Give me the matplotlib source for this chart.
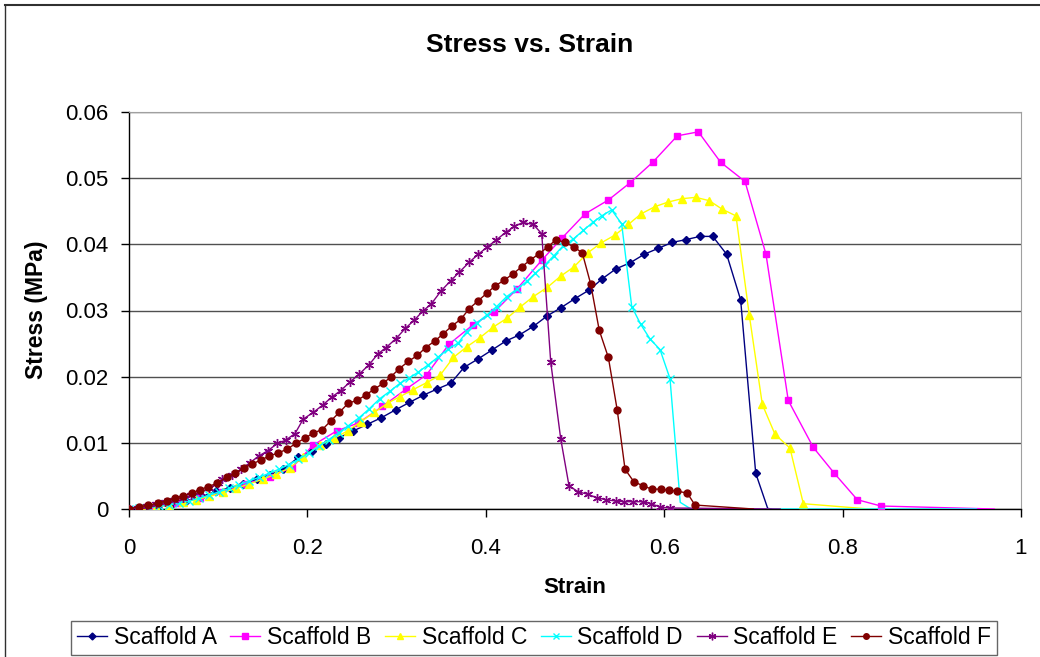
import matplotlib
matplotlib.use("Agg")
import matplotlib.pyplot as plt
from matplotlib.lines import Line2D

plt.rcParams['font.family'] = ['Liberation Sans', 'DejaVu Sans']

########## DATA ##########

a_x = [0, 0.016, 0.032, 0.048, 0.064, 0.08, 0.098, 0.113, 0.128, 0.144, 0.158, 0.173,
       0.1898, 0.2048, 0.2205, 0.2358, 0.2515, 0.2672, 0.283, 0.299, 0.3143, 0.33,
       0.3449, 0.3607, 0.3756, 0.3916, 0.4066, 0.4226, 0.4376, 0.4533, 0.469, 0.484,
       0.5, 0.516, 0.5306, 0.546, 0.5617, 0.5777, 0.5934, 0.6091, 0.6241, 0.6401,
       0.6544, 0.67, 0.6857, 0.7026, 0.716, 0.72]
a_y = [0, 0.0001, 0.0004, 0.0008, 0.0012, 0.0018, 0.0027, 0.0032, 0.0038, 0.0045, 0.0052, 0.006,
       0.0078, 0.0087, 0.0098, 0.0108, 0.0118, 0.0128, 0.0138, 0.015, 0.0161, 0.0172,
       0.0181, 0.019, 0.0214, 0.0227, 0.024, 0.0254, 0.0263, 0.0276, 0.0292, 0.0304,
       0.0318, 0.0331, 0.0348, 0.0363, 0.0372, 0.0385, 0.0394, 0.0403, 0.0407, 0.0412,
       0.0412, 0.0385, 0.0316, 0.0054, 0.0001, 0]
a_marked = 46

b_x = [0, 0.027, 0.054, 0.08, 0.1046, 0.1312, 0.158, 0.1824, 0.2059, 0.2328, 0.2571,
       0.284, 0.3105, 0.3337, 0.3587, 0.3853, 0.4096, 0.4346, 0.4634, 0.4858, 0.5112,
       0.5374, 0.5617, 0.5871, 0.6147, 0.6383, 0.6633, 0.6906, 0.7141, 0.7391, 0.7672,
       0.7907, 0.8165, 0.843, 0.97]
b_y = [0, 0.0002, 0.00095, 0.0016, 0.0025, 0.0038, 0.0049, 0.0062, 0.0096, 0.0118, 0.013,
       0.0155, 0.0181, 0.0203, 0.0249, 0.0278, 0.0298, 0.0332, 0.0377, 0.041, 0.0446,
       0.0467, 0.0493, 0.0524, 0.0564, 0.057, 0.0524, 0.0495, 0.0385, 0.0164, 0.0093,
       0.0054, 0.0014, 0.00045, 0]
b_marked = 34

c_x = [0, 0.015, 0.03, 0.045, 0.06, 0.075, 0.09, 0.105, 0.12, 0.135, 0.15, 0.165, 0.18,
       0.1947, 0.2141, 0.23, 0.245, 0.26, 0.275, 0.29, 0.304, 0.318, 0.3337, 0.3487,
       0.3636, 0.3786, 0.3935, 0.4084, 0.4234, 0.4383, 0.4533, 0.469, 0.484, 0.4989,
       0.5142, 0.5291, 0.5448, 0.5598, 0.574, 0.5897, 0.6046, 0.62, 0.6353, 0.6506,
       0.6651, 0.6805, 0.6954, 0.71, 0.7242, 0.741, 0.756, 0.83]
c_y = [0, 0.0001, 0.0003, 0.0006, 0.001, 0.0014, 0.0019, 0.0025, 0.0031, 0.0038, 0.0045, 0.0053, 0.0062,
       0.0078, 0.0097, 0.0107, 0.0118, 0.0132, 0.0146, 0.016, 0.017, 0.018, 0.0191, 0.0202,
       0.0229, 0.0245, 0.0259, 0.0275, 0.0288, 0.0305, 0.0321, 0.0335, 0.0352, 0.0366,
       0.0387, 0.0402, 0.0414, 0.043, 0.0446, 0.0457, 0.0464, 0.0469, 0.0471, 0.0466,
       0.0453, 0.0443, 0.0293, 0.0158, 0.0113, 0.0092, 0.0008, 0]
c_marked = 51

d_x = [0, 0.011, 0.022, 0.034, 0.045, 0.056, 0.067, 0.078, 0.09, 0.101, 0.112, 0.123,
       0.134, 0.146, 0.157, 0.168, 0.179, 0.19, 0.202, 0.213, 0.224, 0.235, 0.246, 0.258,
       0.269, 0.2814, 0.2926, 0.3038, 0.3142, 0.3244, 0.3356, 0.3468, 0.358, 0.3692,
       0.3786, 0.3898, 0.401, 0.4122, 0.4234, 0.4346, 0.4458, 0.4552, 0.4664, 0.4765,
       0.4869, 0.4981, 0.5093, 0.5198, 0.5299, 0.5411, 0.5523, 0.5636, 0.5737, 0.5841,
       0.5953, 0.6065, 0.618, 0.63, 0.95]
d_y = [0, 0.0001, 0.0002, 0.0004, 0.0006, 0.0009, 0.0012, 0.0016, 0.0021, 0.0026, 0.0031, 0.0036,
       0.0042, 0.0048, 0.0054, 0.006, 0.0067, 0.0075, 0.0085, 0.0095, 0.0105, 0.0115, 0.0126, 0.0138,
       0.0151, 0.0167, 0.0178, 0.019, 0.0198, 0.0207, 0.0218, 0.023, 0.0242, 0.0251,
       0.0268, 0.0281, 0.0293, 0.0306, 0.0321, 0.0332, 0.0344, 0.0356, 0.0369, 0.0383,
       0.0398, 0.0408, 0.0421, 0.0433, 0.0443, 0.0452, 0.0431, 0.0306, 0.0279, 0.0257,
       0.0241, 0.0197, 0.001, 0, 0]
d_marked = 56

e_x = [0, 0.01, 0.02, 0.03, 0.04, 0.05, 0.06, 0.07, 0.08, 0.09, 0.0994, 0.1047, 0.1151,
       0.1256, 0.1357, 0.1454, 0.1555, 0.1663, 0.1756, 0.1861, 0.1954, 0.2066, 0.2171,
       0.2272, 0.2373, 0.2478, 0.2582, 0.2691, 0.2788, 0.2881, 0.299, 0.3098, 0.3195,
       0.3293, 0.3389, 0.3501, 0.3607, 0.3703, 0.3815, 0.3916, 0.4017, 0.4111, 0.4223,
       0.432, 0.4414, 0.4533, 0.4627, 0.4728, 0.484, 0.4933, 0.5037, 0.5149, 0.5243,
       0.5348, 0.546, 0.5546, 0.5654, 0.5759, 0.5852, 0.5953, 0.6065, 0.73]
e_y = [0, 0.0002, 0.0004, 0.0007, 0.001, 0.0013, 0.0017, 0.0021, 0.0026, 0.0031, 0.0039, 0.0045, 0.0052,
       0.006, 0.007, 0.008, 0.0088, 0.0099, 0.0104, 0.0114, 0.0136, 0.0146, 0.0157,
       0.0169, 0.0179, 0.0192, 0.0204, 0.0218, 0.0234, 0.0244, 0.0257, 0.0273, 0.0285,
       0.0299, 0.031, 0.033, 0.0345, 0.0358, 0.0373, 0.0385, 0.0396, 0.0406, 0.0418,
       0.0427, 0.0433, 0.043, 0.0416, 0.0222, 0.0106, 0.0035, 0.0026, 0.0022, 0.0017,
       0.0014, 0.0012, 0.0011, 0.0011, 0.0011, 0.0008, 0.0003, 0.00015, 0]
e_marked = 61

f_x = [0, 0.0116, 0.0217, 0.0322, 0.0423, 0.0516, 0.0609, 0.0703, 0.0796, 0.0889, 0.099,
       0.1095, 0.1188, 0.1289, 0.1382, 0.1476, 0.1573, 0.1674, 0.1768, 0.1869, 0.1973,
       0.2066, 0.2167, 0.2261, 0.2358, 0.2459, 0.2553, 0.2653, 0.2747, 0.2851, 0.2937,
       0.303, 0.3131, 0.3232, 0.3326, 0.343, 0.3524, 0.3624, 0.3722, 0.3815, 0.3909,
       0.401, 0.4103, 0.4208, 0.4301, 0.4402, 0.4496, 0.46, 0.4694, 0.4787, 0.4888,
       0.4989, 0.5082, 0.5176, 0.5272, 0.5374, 0.5474, 0.5561, 0.5661, 0.5766, 0.5859,
       0.596, 0.6057, 0.6147, 0.6259, 0.6345, 0.70]
f_y = [0, 0.00035, 0.0006, 0.00086, 0.00126, 0.0016, 0.002, 0.0024, 0.0029, 0.0034, 0.0039,
       0.0048, 0.0054, 0.0062, 0.0068, 0.0074, 0.008, 0.0085, 0.009, 0.0099, 0.0107,
       0.0115, 0.012, 0.0133, 0.0146, 0.016, 0.0164, 0.0172, 0.0181, 0.019, 0.02,
       0.0212, 0.0223, 0.0232, 0.0244, 0.0254, 0.0265, 0.0277, 0.0287, 0.0303, 0.0314,
       0.0326, 0.0337, 0.0346, 0.0355, 0.0366, 0.0376, 0.0386, 0.0396, 0.0407, 0.0403,
       0.0396, 0.0387, 0.034, 0.027, 0.0229, 0.0149, 0.006, 0.0041, 0.0035, 0.003,
       0.003, 0.0028, 0.0027, 0.0024, 0.0006, 0]
f_marked = 66

series_names = ["Scaffold A", "Scaffold B", "Scaffold C", "Scaffold D", "Scaffold E", "Scaffold F"]
x_ticks = [0, 0.2, 0.4, 0.6, 0.8, 1]
x_tick_labels = ["0", "0.2", "0.4", "0.6", "0.8", "1"]
y_ticks = [0, 0.01, 0.02, 0.03, 0.04, 0.05, 0.06]
y_tick_labels = ["0", "0.01", "0.02", "0.03", "0.04", "0.05", "0.06"]

########## PLOT ##########

colors = ["#000080", "#FF00FF", "#FFFF00", "#00FFFF", "#800080", "#800000"]
markers = ["D", "s", "^", "x", (6, 2, 0), "o"]
msizes = [4.5, 5, 5.5, 6, 6.5, 5]

fig = plt.figure(figsize=(10.4, 6.57), dpi=100)
ax = fig.add_axes([129/1040, 1 - 509/657, (1021 - 129)/1040, (509 - 112)/657])

data = [(a_x, a_y, a_marked), (b_x, b_y, b_marked), (c_x, c_y, c_marked),
        (d_x, d_y, d_marked), (e_x, e_y, e_marked), (f_x, f_y, f_marked)]

handles = []
for i, (xs, ys, nm) in enumerate(data):
    ax.plot(xs, ys, color=colors[i], linewidth=1.0, zorder=3 + i)
    ax.plot(xs[:nm], ys[:nm], linestyle="none", marker=markers[i], markersize=msizes[i],
            color=colors[i], markeredgecolor=colors[i], markeredgewidth=1.0, zorder=3 + i)
    handles.append(Line2D([], [], color=colors[i], linewidth=1.0, marker=markers[i],
                          markersize=msizes[i] - 1, markeredgewidth=1.0))

ax.set_xlim(0, 1)
ax.set_ylim(0, 0.06)
ax.set_xticks(x_ticks)
ax.set_xticklabels(x_tick_labels)
ax.set_yticks(y_ticks)
ax.set_yticklabels(y_tick_labels)
ax.tick_params(direction="out", length=6, width=1, labelsize=16, colors="black")
ax.tick_params(axis="y", pad=9)
ax.tick_params(axis="x", pad=15)
ax.grid(True, axis="y", color="#505050", linewidth=1.0, zorder=1)
ax.set_axisbelow(True)
for s in ["top", "right"]:
    ax.spines[s].set_color("#a0a0a0")
for s in ["left", "bottom"]:
    ax.spines[s].set_color("black")
    ax.spines[s].set_linewidth(1.0)

ax.set_xlabel("Strain", fontsize=16, fontweight="bold", labelpad=13)
fig.text(37/1040, 1 - 310/657, "Stress (MPa)", rotation=90, fontsize=16.5, fontweight="bold",
         ha="center", va="center")
fig.text(530/1040, 1 - 45/657, "Stress vs. Strain", fontsize=19, fontweight="bold",
         ha="center", va="center")

leg = fig.legend(handles, series_names, loc="center", ncol=6,
                 bbox_to_anchor=(534/1040, 1 - 638/657), fontsize=16.5, frameon=True,
                 fancybox=False, edgecolor="#404040", handlelength=1.3, handletextpad=0.3,
                 columnspacing=0.6, borderpad=0.25, borderaxespad=0)
leg.get_frame().set_linewidth(1.0)

# chart border (top and left visible in original crop)
fig.add_artist(Line2D([5/1040, 1], [1 - 5/657, 1 - 5/657], color="#303030", linewidth=1.5))
fig.add_artist(Line2D([5/1040, 5/1040], [0, 1 - 5/657], color="#303030", linewidth=1.0))

fig.savefig("out.png", dpi=100)
plt.close(fig)
